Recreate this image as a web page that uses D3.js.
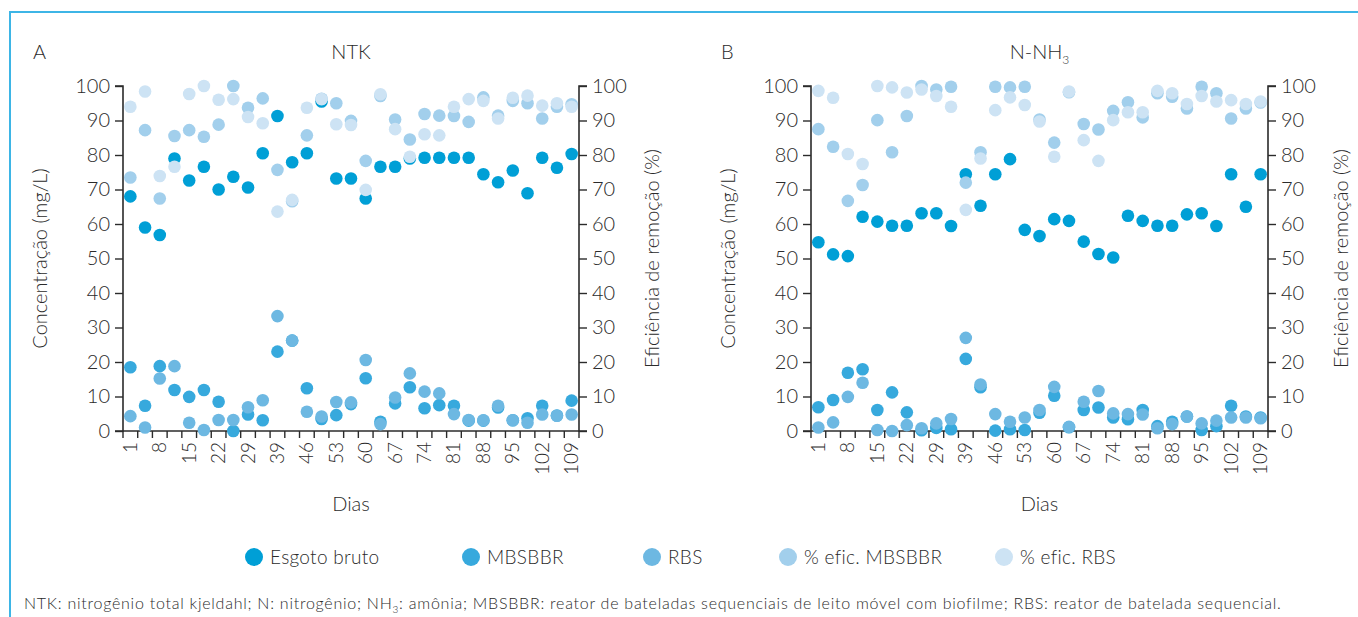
<!DOCTYPE html>
<html>
<head>
<meta charset="utf-8">
<script src="https://cdn.jsdelivr.net/npm/d3@7"></script>
<style>
  html, body { margin: 0; padding: 0; background: #fff; }
  svg text { font-family: Lato, "Open Sans", sans-serif; font-weight: 300; fill: #2b2b2b; }
</style>
</head>
<body>
<svg id="chart" width="1358" height="617"></svg>
<script>
// Sampling days (only every other one is labelled on the axis)
const days = ["1","4","8","11","15","18","22","25","29","32","39","42","46","49","53","56",
              "60","63","67","70","74","77","81","84","88","91","95","98","102","105","109"];
const yTicks = [0,10,20,30,40,50,60,70,80,90,100];

// Panel A – NTK
const ntkEsgoto = [68,59,56.8,79,72.6,76.6,70,73.7,70.6,80.5,91.3,77.9,80.5,95.5,73.2,73.2,
                   67.4,76.6,76.6,79,79.2,79.2,79.2,79.2,74.4,72.1,75.5,68.9,79.2,76.3,80.3];
const ntkMBSBBR = [18.5,7.3,18.8,11.9,9.9,11.9,8.5,0,4.8,3.1,23,26.2,12.4,3.5,4.6,7.8,
                   15.3,2.7,8,12.7,6.6,7.5,7.3,3,3,6.8,3.1,3.7,7.3,4.5,8.8];
const ntkRBS    = [4.3,1,15.2,18.8,2.4,0.3,3.2,3.2,6.9,8.9,33.3,26.2,5.6,4.2,8.4,8.3,
                   20.6,2,9.7,16.7,11.4,10.9,4.9,3.2,3.1,7.3,3.1,2.4,4.8,4.4,4.8];
const ntkEficMBSBBR = [73.5,87.2,67.4,85.5,87.2,85.3,88.8,100,93.7,96.4,75.7,66.6,85.7,96.3,95,89.9,
                       78.3,97.1,90.3,84.5,91.9,91.4,91.3,89.6,96.7,91.4,95.7,95,90.6,94,94.7];
const ntkEficRBS    = [94,98.4,73.9,76.6,97.7,100,96,96.2,91,89.2,63.6,67,93.7,96.2,88.9,88.7,
                       69.9,97.6,87.5,79.5,86,85.7,94,96.2,95.7,90.6,96.6,97.2,94.3,95,94];

// Panel B – N-NH3
const nh3Esgoto = [54.7,51.2,50.7,62.1,60.7,59.5,59.5,63.1,63.1,59.4,74.4,65.3,74.4,78.8,58.3,56.5,
                   61.4,60.9,54.9,51.3,50.3,62.4,60.9,59.5,59.5,62.8,63.1,59.4,74.4,65,74.4];
const nh3MBSBBR = [6.9,9,16.9,17.9,6.1,11.2,5.4,0.2,0.9,0.5,20.9,12.7,0.1,0.5,0.3,5.3,
                   10.2,1.1,6.1,6.8,3.9,3.4,6.1,1.4,2.7,4.2,0.3,1.4,7.3,4.2,3.9];
const nh3RBS    = [1,2.5,9.9,14,0.3,0,1.7,0.8,2.2,3.5,27,13.5,4.9,2.7,3.9,6.1,
                   12.8,1.2,8.5,11.6,5.1,4.9,4.8,0.8,2,4.2,2.2,3,3.9,3.9,3.7];
const nh3EficMBSBBR = [87.5,82.4,66.7,71.3,90.1,80.8,91.3,100,99,99.8,72,80.8,99.8,99.6,99.8,90.3,
                       83.6,98.2,89,87.4,92.8,95.3,90.9,97.9,96.9,93.5,99.8,97.9,90.6,93.5,95.2];
const nh3EficRBS    = [98.6,96.6,80.3,77.4,100,99.6,98.1,99,97.1,94,64.1,79,93,96.7,94.5,89.7,
                       79.5,98.4,84.3,78.3,90.1,92.4,92.4,98.6,97.9,94.8,97.1,95.5,95.9,94.8,95.5];

const seriesNames  = ["Esgoto bruto","MBSBBR","RBS","% efic. MBSBBR","% efic. RBS"];
const seriesColors = ["#009fd6","#37a9dd","#6db8e2","#a2cfec","#cde3f4"];

const svg = d3.select("#chart");

// Frame around the figure
svg.append("path")
  .attr("d", "M10,617 V12 H1358")
  .attr("fill", "none")
  .attr("stroke", "#3db5e6")
  .attr("stroke-width", 2);

function drawPanel(left, right, letter, title, series) {
  const top = 86, bottom = 431;
  const x = d3.scaleBand().domain(days).range([left, right]);
  const y = d3.scaleLinear().domain([0, 100]).range([bottom, top]);
  const g = svg.append("g");

  // Left and right value axes
  const yl = g.append("g").attr("transform", `translate(${left},0)`)
    .call(d3.axisLeft(y).tickValues(yTicks).tickSize(8).tickPadding(5));
  const yr = g.append("g").attr("transform", `translate(${right},0)`)
    .call(d3.axisRight(y).tickValues(yTicks).tickSize(8).tickPadding(5));
  [yl, yr].forEach(a => {
    a.selectAll("text").style("font-size", "20px");
    a.select(".domain").attr("stroke", "#2b2b2b").attr("stroke-width", 1.6);
    a.selectAll(".tick line").attr("stroke", "#2b2b2b").attr("stroke-width", 1.4);
  });
  yl.select(".domain").attr("d", `M-8,${top}H0V${bottom}H-8`);
  yr.select(".domain").attr("d", `M8,${top}H0V${bottom}H8`);

  // Category axis: ticks on band edges, labels on every other day
  const xa = g.append("g").attr("transform", `translate(0,${bottom})`);
  xa.append("line").attr("x1", left).attr("x2", right)
    .attr("stroke", "#2b2b2b").attr("stroke-width", 1.6);
  const edges = days.map(d => x(d)).concat([right]);
  xa.selectAll("line.tk").data(edges).join("line").attr("class", "tk")
    .attr("x1", d => d).attr("x2", d => d).attr("y1", 0).attr("y2", 7)
    .attr("stroke", "#2b2b2b").attr("stroke-width", 1.4);
  xa.selectAll("text").data(days.filter((d, i) => i % 2 === 0)).join("text")
    .attr("transform", d => `translate(${x(d) + x.bandwidth() / 2 + 6.5},11) rotate(-90)`)
    .attr("text-anchor", "end")
    .style("font-size", "19px")
    .text(d => d);

  // Dots, drawn in legend order so the efficiencies sit on top
  series.forEach((vals, si) => {
    g.append("g").selectAll("circle").data(vals).join("circle")
      .attr("cx", (v, i) => x(days[i]) + x.bandwidth() / 2)
      .attr("cy", v => y(v))
      .attr("r", 6.3)
      .attr("fill", seriesColors[si]);
  });

  // Titles
  g.append("text").attr("x", left - 90).attr("y", 59).style("font-size", "20px").text(letter);
  const t = g.append("text").attr("x", (left + right) / 2).attr("y", 59)
    .attr("text-anchor", "middle").style("font-size", "20px");
  title.forEach(part => {
    const s = t.append("tspan").text(part.t);
    if (part.sub) s.attr("dy", 5).style("font-size", "12px");
  });
  g.append("text").attr("x", (left + right) / 2).attr("y", 511)
    .attr("text-anchor", "middle").style("font-size", "20px").text("Dias");
  g.append("text")
    .attr("transform", `translate(${left - 76},${(top + bottom) / 2}) rotate(-90)`)
    .attr("text-anchor", "middle").style("font-size", "20px").text("Concentração (mg/L)");
  g.append("text")
    .attr("transform", `translate(${right + 80},${(top + bottom) / 2}) rotate(-90)`)
    .attr("text-anchor", "middle").style("font-size", "20px").text("Eficiência de remoção (%)");
}

drawPanel(123, 579, "A", [{t: "NTK"}],
  [ntkEsgoto, ntkMBSBBR, ntkRBS, ntkEficMBSBBR, ntkEficRBS]);
drawPanel(811, 1268, "B", [{t: "N-NH"}, {t: "3", sub: true}],
  [nh3Esgoto, nh3MBSBBR, nh3RBS, nh3EficMBSBBR, nh3EficRBS]);

// Legend
const legendX = [254, 471, 652, 788, 1004];
const leg = svg.append("g");
seriesNames.forEach((name, i) => {
  leg.append("circle").attr("cx", legendX[i]).attr("cy", 557).attr("r", 9).attr("fill", seriesColors[i]);
  leg.append("text").attr("x", legendX[i] + 16).attr("y", 564)
    .style("font-size", "19px").style("letter-spacing", "0.3px").text(name);
});

// Footnote
const note = svg.append("text").attr("x", 24).attr("y", 609)
  .style("font-size", "16px").style("letter-spacing", "0.75px");
note.append("tspan").text("NTK: nitrogênio total kjeldahl; N: nitrogênio; NH");
note.append("tspan").attr("dy", 4).style("font-size", "10px").text("3");
note.append("tspan").attr("dy", -4).text(": amônia; MBSBBR: reator de bateladas sequenciais de leito móvel com biofilme; RBS: reator de batelada sequencial.");
</script>
</body>
</html>
